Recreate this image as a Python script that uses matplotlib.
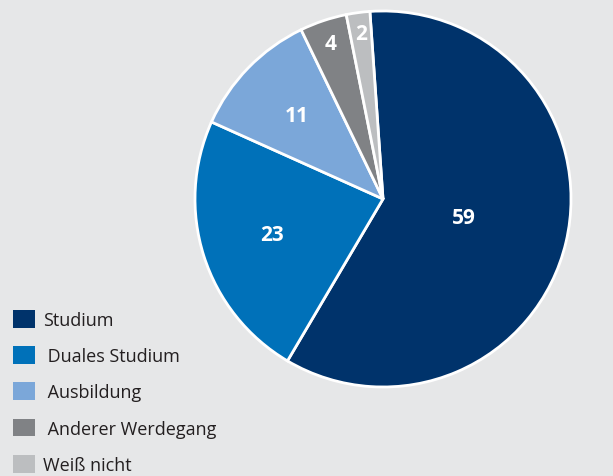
import matplotlib.pyplot as plt
import matplotlib.patches as mpatches
import numpy as np

labels = ["Studium", " Duales Studium", " Ausbildung", " Anderer Werdegang", "Weiß nicht"]
values = [59, 23, 11, 4, 2]

colors = ["#00336b", "#0071b9", "#7ba7d9", "#808285", "#bcbec0"]
label_radius = [0.44, 0.62, 0.64, 0.87, 0.89]
bg = "#e6e7e8"

plt.rcParams["font.family"] = ["Open Sans", "DejaVu Sans"]

fig = plt.figure(figsize=(6.13, 4.77), dpi=100, facecolor=bg)
ax = fig.add_axes([0.3181, 0.1866, 0.6134, 0.7883])
ax.set_facecolor(bg)

wedges, _ = ax.pie(
    values,
    colors=colors,
    startangle=94,
    counterclock=False,
    radius=1.0,
    wedgeprops=dict(edgecolor="white", linewidth=2),
)

# value labels inside the slices
for w, v, r in zip(wedges, values, label_radius):
    mid = np.deg2rad((w.theta1 + w.theta2) / 2)
    ax.text(r * np.cos(mid), r * np.sin(mid), str(v), color="white",
            fontsize=15, fontweight="bold", ha="center", va="center")

ax.set_xlim(-1.0, 1.0)
ax.set_ylim(-1.0, 1.0)
ax.axis("off")

handles = [mpatches.Patch(facecolor=c, edgecolor="none") for c in colors]
fig.legend(
    handles,
    labels,
    loc="lower left",
    bbox_to_anchor=(0.0, -0.022),
    frameon=False,
    fontsize=13,
    handlelength=1.25,
    handleheight=1.15,
    handletextpad=0.45,
    labelspacing=0.95,
    borderaxespad=0.3,
    labelcolor="#231f20",
)

fig.savefig("out.png", dpi=100, facecolor=bg)
